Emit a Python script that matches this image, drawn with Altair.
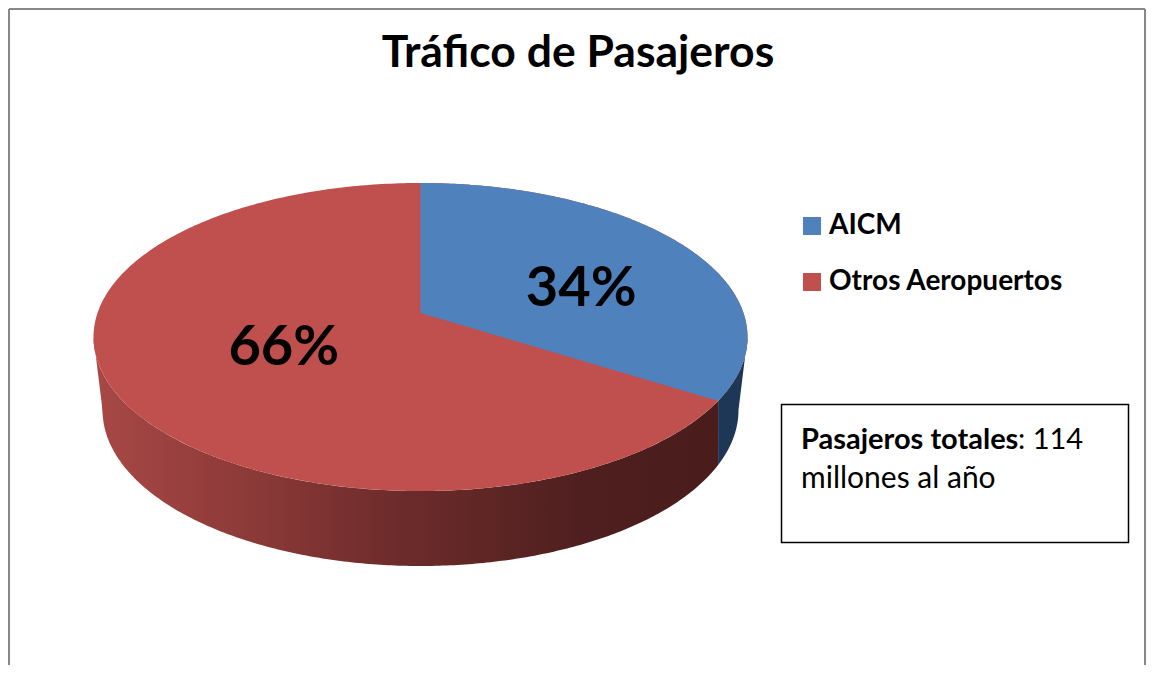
import altair as alt
import pandas as pd

# ---------------- data ----------------
categories = ["AICM", "Otros Aeropuertos"]
values = [34, 66]
colors = ["#4f81bd", "#c0504d"]
title_text = ["Tráfico de Pasajeros"]
note_bold = ["Pasajeros totales"]
note_tail = [": 114"]
note_line2 = ["millones al año"]

# ---------------- layout (page pixels; x/y scales are identity) ----------------
W, H = 1138, 657
CX, AY = 420.5, 313.0            # apex of the pie's top face
A, B, K = 323.0, 150.3, 0.156    # perspective projection of the pie disc
RX = A / (1 - K * K) ** 0.5
RY = (B / (1 - K) + B / (1 + K)) / 2
CY = AY + B * K / (1 - K * K)
RXB, CYB, RYB = 318.0, 410.0, 156.0   # bottom rim of the pie
N = 240
LABEL_R = [0.593, 0.466]
LABEL_DY = [17, 0]
FONT = "Lato"

df = pd.DataFrame({"category": categories, "value": values})

xs = alt.Scale(domain=[8, 8 + W], nice=False, zero=False)
ys = alt.Scale(domain=[8, 8 + H], nice=False, zero=False, reverse=True)
cs = alt.Scale(domain=categories, range=colors)


def X(f):
    return alt.X(f, type="quantitative", scale=xs, axis=None)


def Y(f):
    return alt.Y(f, type="quantitative", scale=ys, axis=None)


def base():
    return (
        alt.Chart(df)
        .transform_window(idx="row_number()", cum="sum(value)", frame=[None, 0])
        .transform_joinaggregate(total="sum(value)")
        .transform_calculate(
            a0="2*PI*(datum.cum - datum.value)/datum.total",
            a1="2*PI*datum.cum/datum.total",
        )
        .transform_calculate(es=f"1/(1+{K}*cos(datum.a1))")
        .transform_calculate(
            xe=f"{CX}+{A}*sin(datum.a1)*datum.es",
            ye=f"{AY}-{B}*cos(datum.a1)*datum.es",
        )
    )


def sampled(ch):
    return ch.transform_calculate(k=f"sequence(0, {N + 1})").transform_flatten(["k"])


YBOT = (
    f"abs(datum.x-{CX}) <= {RXB} ? "
    f"{CYB}+{RYB}*sqrt(max(0, 1-pow((datum.x-{CX})/{RXB}, 2))) : "
    f"{CY}+({CYB}-{CY})*({RX}-abs(datum.x-{CX}))/({RX}-{RXB})"
)

red_grad = alt.LinearGradient(
    gradient="linear",
    x1=0, x2=1, y1=0, y2=0,
    stops=[
        alt.GradientStop(color="#a84846", offset=0),
        alt.GradientStop(color="#8c3a38", offset=0.25),
        alt.GradientStop(color="#702d2c", offset=0.46),
        alt.GradientStop(color="#4f1f1f", offset=0.78),
        alt.GradientStop(color="#4a1c1c", offset=1),
    ],
)

first = base().transform_filter("datum.idx == 1")

side_red = (
    sampled(first.transform_calculate(phe=f"acos(({CX}-datum.xe)/{RX})"))
    .transform_calculate(phi=f"datum.phe*datum.k/{N}")
    .transform_calculate(x=f"{CX}-{RX}*cos(datum.phi)", yt=f"{CY}+{RY}*sin(datum.phi)")
    .transform_calculate(yb=YBOT)
    .mark_area(color=red_grad, interpolate="linear")
    .encode(x=X("x"), y=Y("yt"), y2=alt.Y2("yb"))
)

side_blue = (
    sampled(first.transform_calculate(phe=f"acos(({CX}-datum.xe)/{RX})"))
    .transform_calculate(phi=f"datum.phe+(PI-datum.phe)*datum.k/{N}")
    .transform_calculate(x=f"{CX}-{RX}*cos(datum.phi)", yt=f"{CY}+{RY}*sin(datum.phi)")
    .transform_calculate(yb=YBOT)
    .mark_area(color="#1f3756", interpolate="linear")
    .encode(x=X("x"), y=Y("yt"), y2=alt.Y2("yb"))
)

legend = alt.Legend(
    title=None, orient="none", legendX=790, legendY=204,
    symbolType="square", symbolSize=324, symbolStrokeWidth=0, symbolOpacity=1,
    labelFont=FONT, labelFontSize=28, labelFontWeight="bold", labelColor="black",
    labelOffset=3, labelLimit=0, rowPadding=28, padding=0,
)

top_rest = (
    sampled(base().transform_filter("datum.idx == 2"))
    .transform_calculate(phi=f"PI*datum.k/{N}")
    .transform_calculate(
        x=f"{CX}-{RX}*cos(datum.phi)",
        yt=f"{CY}-{RY}*sin(datum.phi)",
        yb=f"{CY}+{RY}*sin(datum.phi)",
    )
    .mark_area(interpolate="linear")
    .encode(x=X("x"), y=Y("yt"), y2=alt.Y2("yb"),
            color=alt.Color("category:N", scale=cs, legend=legend))
)

top_first = (
    sampled(first)
    .transform_calculate(phi=f"PI/2*datum.k/{N}")
    .transform_calculate(x=f"{CX}+{RX}*sin(datum.phi)", yt=f"{CY}-{RY}*cos(datum.phi)")
    .transform_calculate(
        yb=f"datum.x <= datum.xe ? {AY}+(datum.ye-{AY})*(datum.x-{CX})/(datum.xe-{CX}) : {CY}+{RY}*cos(datum.phi)"
    )
    .mark_area(interpolate="linear")
    .encode(x=X("x"), y=Y("yt"), y2=alt.Y2("yb"),
            color=alt.Color("category:N", scale=cs, legend=legend))
)

labels = (
    base()
    .transform_calculate(
        rr=f"{LABEL_R}[datum.idx-1]",
        dy=f"{LABEL_DY}[datum.idx-1]",
        mid="(datum.a0+datum.a1)/2",
    )
    .transform_calculate(ls=f"1/(1+{K}*datum.rr*cos(datum.mid))")
    .transform_calculate(
        lx=f"{CX}+{A}*datum.rr*sin(datum.mid)*datum.ls",
        ly=f"{AY}-{B}*datum.rr*cos(datum.mid)*datum.ls+datum.dy",
        pct="format(datum.value/datum.total, '.0%')",
    )
    .mark_text(font=FONT, fontWeight="bold", fontSize=56, color="black",
               baseline="middle", align="center")
    .encode(x=X("lx"), y=Y("ly"), text="pct:N")
)

title = (
    alt.Chart(pd.DataFrame({"t": title_text}))
    .mark_text(font=FONT, fontWeight="bold", fontSize=44.5, color="black",
               baseline="alphabetic", align="center")
    .encode(x=alt.datum(578), y=alt.datum(67), text="t:N")
)

box = (
    alt.Chart(pd.DataFrame({"t": note_bold}))
    .mark_rect(fill="white", stroke="black", strokeWidth=1.5)
    .encode(x=alt.datum(781.5), x2=alt.datum(1128.5), y=alt.datum(404.5), y2=alt.datum(542.5))
)

note1 = (
    alt.Chart(pd.DataFrame({"t": note_bold}))
    .mark_text(font=FONT, fontWeight="bold", fontSize=29, color="black",
               baseline="alphabetic", align="left")
    .encode(x=alt.datum(801), y=alt.datum(449), text="t:N")
)
note2 = (
    alt.Chart(pd.DataFrame({"t": note_tail}))
    .mark_text(font=FONT, fontSize=29, color="black",
               baseline="alphabetic", align="left")
    .encode(x=alt.datum(1018), y=alt.datum(449), text="t:N")
)
note3 = (
    alt.Chart(pd.DataFrame({"t": note_line2}))
    .mark_text(font=FONT, fontSize=30, color="black",
               baseline="alphabetic", align="left")
    .encode(x=alt.datum(801), y=alt.datum(488), text="t:N")
)

frame_df = pd.DataFrame({"t": ["frame"]})
frame_left = alt.Chart(frame_df).mark_rule(color="#888888", strokeWidth=2).encode(
    x=alt.datum(9), y=alt.datum(9), y2=alt.datum(8 + H))
frame_top = alt.Chart(frame_df).mark_rule(color="#888888", strokeWidth=2).encode(
    x=alt.datum(9), x2=alt.datum(7 + W), y=alt.datum(9))
frame_right = alt.Chart(frame_df).mark_rule(color="#888888", strokeWidth=2).encode(
    x=alt.datum(7 + W), y=alt.datum(9), y2=alt.datum(8 + H))

chart = (
    alt.layer(side_red, side_blue, top_rest, top_first, labels, title,
              box, note1, note2, note3, frame_left, frame_top, frame_right)
    .properties(width=W, height=H, padding=0,
                autosize=alt.AutoSizeParams(type="none"))
    .configure_view(stroke=None)
)

chart.save("out.html", embed_options={"renderer": "svg", "actions": False})
